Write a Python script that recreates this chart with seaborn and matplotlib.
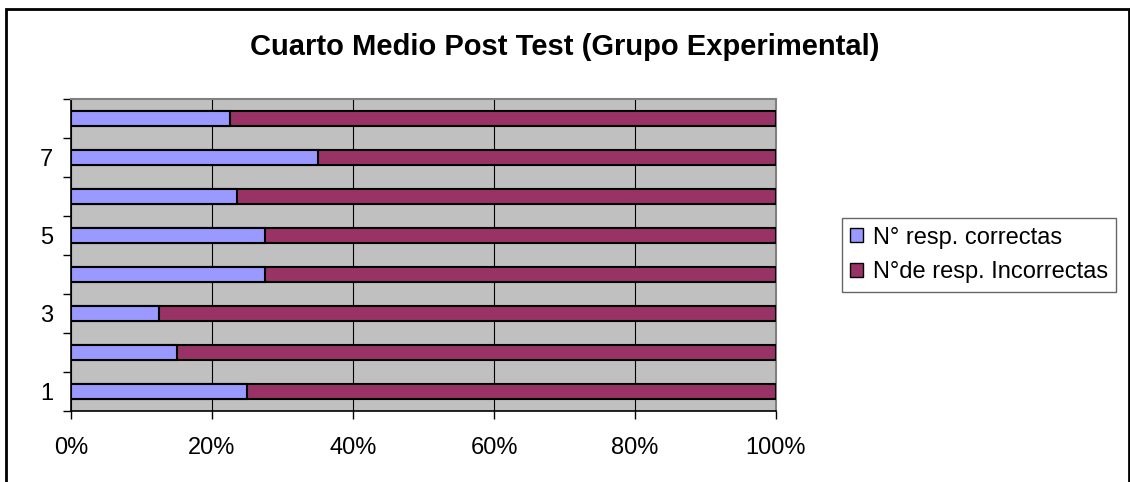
import matplotlib
matplotlib.use("Agg")
import matplotlib.pyplot as plt
import seaborn as sns
import pandas as pd
import numpy as np
from matplotlib.patches import Rectangle, Patch

# Data (share of answers per question)
preguntas = ["1", "2", "3", "4", "5", "6", "7", "8"]
correctas = [0.25, 0.15, 0.125, 0.275, 0.275, 0.235, 0.35, 0.225]
incorrectas = [1 - c for c in correctas]
etiquetas_x = ["0%", "20%", "40%", "60%", "80%", "100%"]

df = pd.DataFrame({"pregunta": preguntas, "correctas": correctas, "incorrectas": incorrectas})
df["total"] = df["correctas"] + df["incorrectas"]

sns.set_style("white")
plt.rcParams["font.family"] = ["Liberation Sans", "DejaVu Sans"]
plt.rcParams["text.color"] = "black"
plt.rcParams["xtick.color"] = "black"
plt.rcParams["ytick.color"] = "black"

fig = plt.figure(figsize=(11.3, 4.82), dpi=100)
ax = fig.add_axes([71 / 1130, 71 / 482, 705 / 1130, 312 / 482])

orden = preguntas[::-1]
sns.barplot(data=df, x="total", y="pregunta", order=orden, orient="h", color="#993366",
            saturation=1, width=0.38, edgecolor="black", linewidth=1.5, ax=ax, zorder=3)
sns.barplot(data=df, x="correctas", y="pregunta", order=orden, orient="h", color="#9999FF",
            saturation=1, width=0.38, edgecolor="black", linewidth=1.5, ax=ax, zorder=4)

ax.set_facecolor("#C0C0C0")
ax.set_xlim(0, 1)
ax.set_ylim(len(preguntas) - 0.5, -0.5)
ax.set_xticks(np.linspace(0, 1, 6))
ax.set_xticklabels(etiquetas_x, fontsize=17)
ax.xaxis.grid(True, color="black", linewidth=0.8, zorder=1)
ax.set_axisbelow(True)

ax.set_yticks(range(len(orden)))
ax.set_yticklabels([p if int(p) % 2 == 1 else "" for p in orden], fontsize=17)
ax.set_yticks(np.arange(-0.5, len(orden), 1), minor=True)
ax.tick_params(axis="y", which="major", length=0, pad=13)
ax.tick_params(axis="y", which="minor", length=6, width=1, color="black", direction="out", left=True)
ax.tick_params(axis="x", which="major", length=6, width=1, color="black", direction="out", bottom=True, pad=13)
ax.set_xlabel("")
ax.set_ylabel("")

for lado in ["top", "right"]:
    ax.spines[lado].set_color("#808080")
    ax.spines[lado].set_linewidth(1.5)
for lado in ["left", "bottom"]:
    ax.spines[lado].set_color("black")
    ax.spines[lado].set_linewidth(1.2)

fig.text(0.5, 1 - 47 / 482, "Cuarto Medio Post Test (Grupo Experimental)", ha="center", va="center",
         fontsize=21, fontweight="bold")

handles = [Patch(facecolor="#9999FF", edgecolor="black", label="N° resp. correctas"),
           Patch(facecolor="#993366", edgecolor="black", label="N°de resp. Incorrectas")]
leg = fig.legend(handles=handles, loc="center left", bbox_to_anchor=(842 / 1130, 1 - 255 / 482),
                 fontsize=17, frameon=True, fancybox=False, edgecolor="#404040",
                 handlelength=0.55, handleheight=0.55, handletextpad=0.4, labelspacing=0.55,
                 borderpad=0.35, borderaxespad=0)
leg.get_frame().set_linewidth(1)

fig.patches.append(Rectangle((6 / 1130, -0.02), 1123 / 1130, 1.02 - 9 / 482, transform=fig.transFigure,
                             fill=False, edgecolor="black", linewidth=2))

fig.savefig("out.png", dpi=100)
